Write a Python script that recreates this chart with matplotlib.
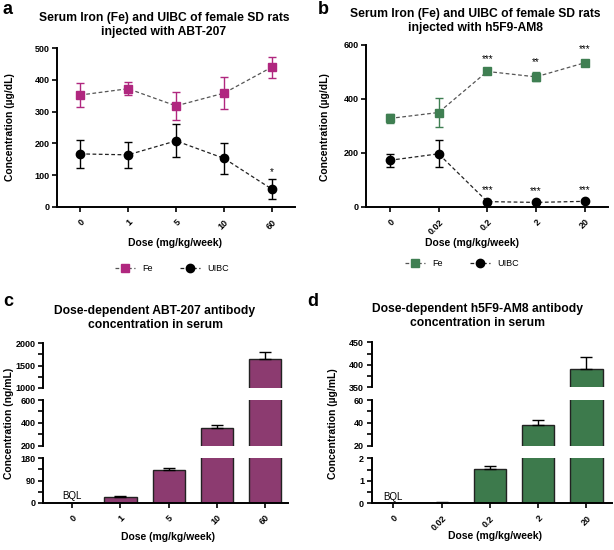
import matplotlib.pyplot as plt
import numpy as np

plt.rcParams['font.family'] = ['Liberation Sans', 'DejaVu Sans']
plt.rcParams['font.weight'] = 'bold'
plt.rcParams['axes.linewidth'] = 1.4

W, H = 614, 550

# panel a / b: serum iron and UIBC
doses_a = ['0', '1', '5', '10', '60']
fe_a = [352, 372, 318, 358, 440]
fe_a_err = [37, 21, 45, 51, 33]
uibc_a = [167, 164, 208, 153, 56]
uibc_a_err = [45, 40, 52, 48, 31]
stars_uibc_a = ['', '', '', '', '*']

doses_b = ['0', '0.02', '0.2', '2', '20']
fe_b = [328, 350, 502, 482, 534]
fe_b_err = [18, 52, 8, 17, 12]
uibc_b = [173, 197, 20, 17, 21]
uibc_b_err = [25, 50, 4, 3, 4]
stars_fe_b = ['', '', '***', '**', '***']
stars_uibc_b = ['', '', '***', '***', '***']

# panel c / d: antibody concentration (0 = BQL)
conc_c = [0, 22, 131, 355, 1646]
conc_c_err = [0, 4, 10, 22, 150]
conc_d = [0, 0.03, 1.52, 37.9, 390.7]
conc_d_err = [0, 0.01, 0.14, 4.3, 27]

FE_A = '#b0277f'
FE_B = '#3f7f52'
BAR_C = '#8c3b70'
BAR_D = '#3d7a4c'
LINE = '#555555'


def box(l, t, r, b):
    return [l / W, 1 - b / H, (r - l) / W, (b - t) / H]


def ftext(x, y, s, **kw):
    fig.text(x / W, 1 - y / H, s, **kw)


fig = plt.figure(figsize=(W / 100, H / 100), dpi=100)


def line_panel(rect, doses, fe, fe_err, uibc, uibc_err, fe_col, ylim, yticks, xl):
    ax = fig.add_axes(rect)
    x = np.arange(len(doses))
    h1, = ax.plot(x, fe, ls=(0, (3, 2)), lw=0.9, color=LINE, marker='s', ms=5.5,
                  mfc=fe_col, mec=fe_col, label='Fe')
    ax.errorbar(x, fe, yerr=fe_err, fmt='none', ecolor=fe_col, elinewidth=1,
                capsize=3, capthick=1)
    h2, = ax.plot(x, uibc, ls=(0, (3, 2)), lw=0.9, color='#222222', marker='o', ms=6,
                  mfc='black', mec='black', label='UIBC')
    ax.errorbar(x, uibc, yerr=uibc_err, fmt='none', ecolor='black', elinewidth=1,
                capsize=3, capthick=1)
    ax.set_xlim(*xl)
    ax.set_ylim(*ylim)
    ax.set_yticks(yticks)
    ax.set_xticks(x)
    ax.set_xticklabels(doses, rotation=45, ha='right', rotation_mode='anchor')
    ax.tick_params(labelsize=6.5, width=1.2, length=3.5, pad=2)
    ax.tick_params(axis='x', pad=4)
    for s in ['top', 'right']:
        ax.spines[s].set_visible(False)
    return ax, x, [h1, h2]


# ---- panel a
ax_a, xa, hs = line_panel(box(57, 48, 295, 207), doses_a, fe_a, fe_a_err, uibc_a,
                          uibc_a_err, FE_A, (0, 500), [0, 100, 200, 300, 400, 500], (-0.48, 4.48))
for i, s in enumerate(stars_uibc_a):
    if s:
        ax_a.text(xa[i], uibc_a[i] + uibc_a_err[i] + 8, s, ha='center', va='bottom',
                  fontsize=7, fontweight='normal')
fig.legend(hs, ['Fe', 'UIBC'], loc='center', bbox_to_anchor=(172 / W, 1 - 269 / H), ncol=2,
           frameon=False, handlelength=2.2, columnspacing=3,
           prop={'weight': 'normal', 'size': 6.5})

# ---- panel b
ax_b, xb, hs = line_panel(box(366, 45, 608, 207), doses_b, fe_b, fe_b_err, uibc_b,
                          uibc_b_err, FE_B, (0, 600), [0, 200, 400, 600], (-0.49, 4.48))
for i, s in enumerate(stars_fe_b):
    if s:
        ax_b.text(xb[i], fe_b[i] + fe_b_err[i] + 20, s, ha='center', va='bottom',
                  fontsize=7, fontweight='normal')
for i, s in enumerate(stars_uibc_b):
    if s:
        ax_b.text(xb[i], uibc_b[i] + 25, s, ha='center', va='bottom',
                  fontsize=7, fontweight='normal')
fig.legend(hs, ['Fe', 'UIBC'], loc='center', bbox_to_anchor=(462 / W, 1 - 264 / H), ncol=2,
           frameon=False, handlelength=2.2, columnspacing=3,
           prop={'weight': 'normal', 'size': 6.5})


def bar_panel(left, right, segs, doses, vals, errs, color, xl):
    x = np.arange(len(doses))
    axes = []
    for k, (top, bot, lo, hi, ticks, minors) in enumerate(segs):
        ax = fig.add_axes(box(left, top, right, bot))
        ax.bar(x, vals, width=0.67, color=color, edgecolor='#222222', lw=1)
        ax.errorbar(x, vals, yerr=[np.zeros(len(vals)), errs], fmt='none', ecolor='black',
                    elinewidth=1, capsize=4.5, capthick=1)
        ax.set_xlim(*xl)
        ax.set_ylim(lo, hi)
        ax.set_yticks(ticks)
        ax.set_yticks(minors, minor=True)
        ax.tick_params(labelsize=6.5, width=1.2, length=3.5, pad=2)
        ax.tick_params(which='minor', width=1.2, length=3.5)
        for s in ['top', 'right']:
            ax.spines[s].set_visible(False)
        if k < len(segs) - 1:
            ax.spines['bottom'].set_visible(False)
            ax.set_xticks([])
        else:
            ax.set_xticks(x)
            ax.set_xticklabels(doses, rotation=45, ha='right', rotation_mode='anchor')
            ax.tick_params(axis='x', pad=4)
            ax.text(0, hi * 0.04, 'BQL', ha='center', va='bottom', fontsize=7,
                    fontweight='normal')
        axes.append(ax)
    return axes


# ---- panel c
bar_panel(43, 288, [
    (343.3, 387.7, 1000, 2000, [1000, 1500, 2000], [1250, 1750]),
    (400, 445.7, 200, 600, [200, 400, 600], [300, 500]),
    (458.3, 502.7, 0, 180, [0, 90, 180], [45, 135]),
], doses_a, conc_c, conc_c_err, BAR_C, (-0.61, 4.48))

# ---- panel d
bar_panel(371.7, 612, [
    (342.3, 387.3, 350, 450, [350, 400, 450], [375, 425]),
    (400, 445.7, 20, 60, [20, 40, 60], [30, 50]),
    (458.3, 503.3, 0, 2, [0, 1, 2], [0.5, 1.5]),
], doses_b, conc_d, conc_d_err, BAR_D, (-0.45, 4.53))

# titles, labels, panel letters
tkw = dict(ha='center', va='center', fontsize=8.7, linespacing=1.25)
ftext(164, 25, 'Serum Iron (Fe) and UIBC of female SD rats\ninjected with ABT-207', **tkw)
ftext(475, 21, 'Serum Iron (Fe) and UIBC of female SD rats\ninjected with h5F9-AM8', **tkw)
ftext(155, 318, 'Dose-dependent ABT-207 antibody\nconcentration in serum', **tkw)
ftext(477, 316, 'Dose-dependent h5F9-AM8 antibody\nconcentration in serum', **tkw)

lkw = dict(ha='center', va='center', fontsize=7.5)
ftext(175, 243, 'Dose (mg/kg/week)', **lkw)
ftext(472, 243, 'Dose (mg/kg/week)', **lkw)
ftext(168, 537, 'Dose (mg/kg/week)', **lkw)
ftext(495, 536, 'Dose (mg/kg/week)', **lkw)
ftext(10, 127, 'Concentration (µg/dL)', rotation=90, **lkw)
ftext(325, 127, 'Concentration (µg/dL)', rotation=90, **lkw)
ftext(9, 423, 'Concentration (ng/mL)', rotation=90, **lkw)
ftext(333, 424, 'Concentration (µg/mL)', rotation=90, **lkw)

pkw = dict(ha='left', va='center', fontsize=13)
ftext(3, 10, 'a', **pkw)
ftext(318, 10, 'b', **pkw)
ftext(3, 302, 'c', **pkw)
ftext(307, 302, 'd', **pkw)

fig.savefig('out.png', dpi=100)
